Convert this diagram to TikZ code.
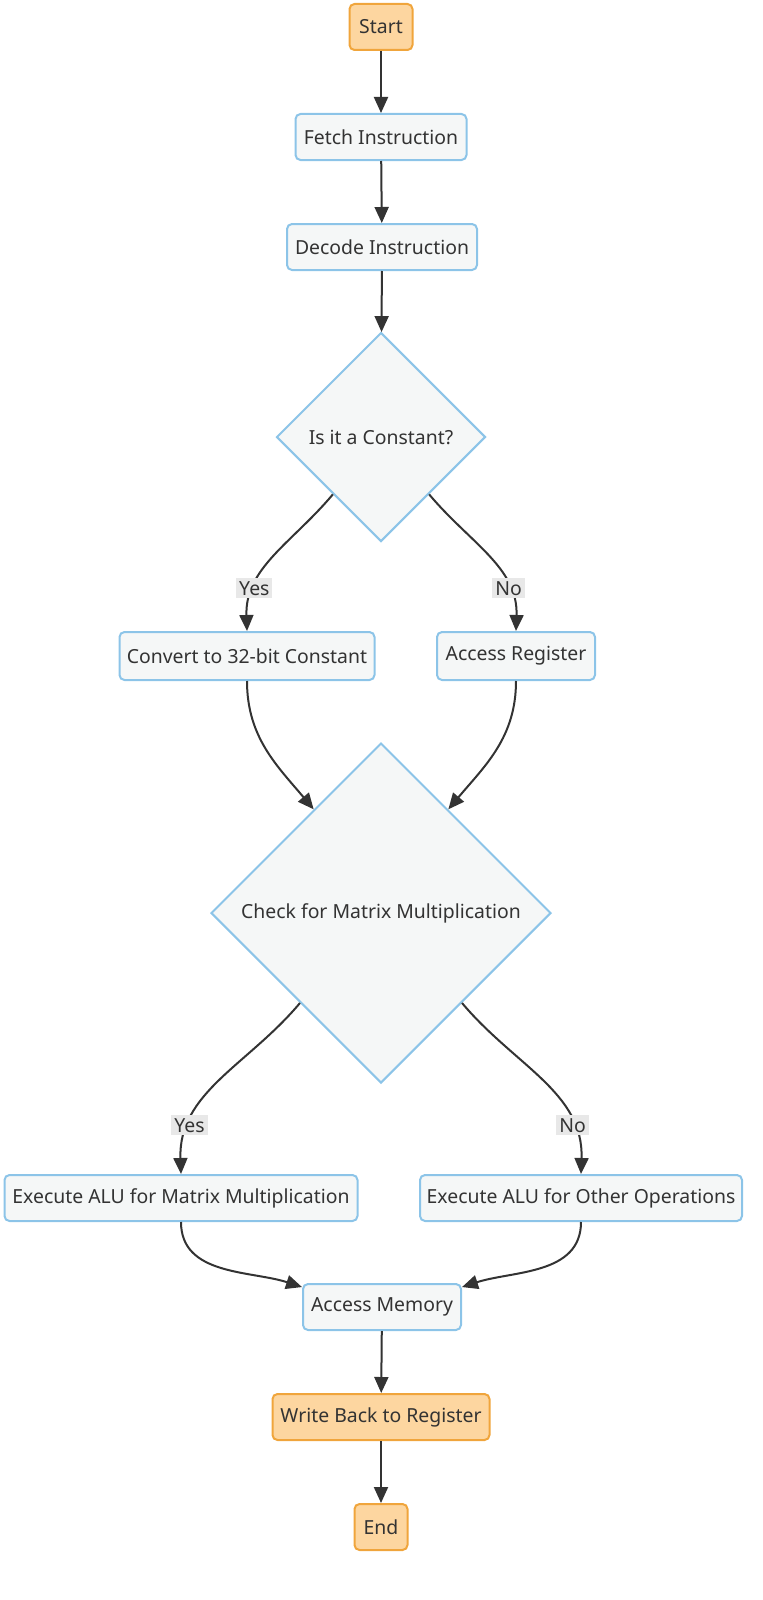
\documentclass[tikz,border=0pt]{standalone}
\usepackage{fontspec}
\setmainfont{Noto Sans}
\usetikzlibrary{shapes.geometric,arrows.meta}
\definecolor{boxfill}{HTML}{F5F7F7}
\definecolor{boxline}{HTML}{8CC4E8}
\definecolor{termfill}{HTML}{FDD6A0}
\definecolor{termline}{HTML}{F0A53C}
\definecolor{flowgray}{HTML}{333333}
\definecolor{textgray}{HTML}{333333}
\definecolor{lblgray}{HTML}{E8E8E8}
\begin{document}
\begin{tikzpicture}[x=0.5pt,y=-0.5pt]
    \tikzstyle{every node}+=[font=\fontsize{9.7}{11.5}\selectfont, text=textgray]
    \tikzstyle{proc}=[draw=boxline, fill=boxfill, line width=1pt, rounded corners=2.5pt, minimum height=23pt, inner xsep=3pt]
    \tikzstyle{term}=[proc, draw=termline, fill=termfill]
    \tikzstyle{decide}=[diamond, draw=boxline, fill=boxfill, line width=1pt, aspect=1, inner sep=0pt]
    \tikzstyle{flow}=[draw=flowgray, line width=1pt, -{Triangle[length=8pt,width=7pt]}]
    \tikzstyle{lbl}=[fill=lblgray, inner sep=1.5pt]
    \useasboundingbox (0,0) rectangle (763,1600);
        \node [term, minimum width=31.5pt] (start) at (381,27) {Start};
        \node [proc, minimum width=85.5pt] (fetch) at (381,137) {Fetch Instruction};
        \node [proc, minimum width=95pt] (decode) at (382,247) {Decode Instruction};
        \node [decide, minimum size=104.5pt] (isconst) at (381,437) {Is it a Constant?};
        \node [proc, minimum width=127.5pt, minimum height=24pt] (conv) at (247,656) {Convert to 32-bit Constant};
        \node [proc, minimum width=79pt, minimum height=24pt] (accreg) at (516,656) {Access Register};
        \node [decide, minimum size=170pt] (ismat) at (381,913) {Check for Matrix Multiplication};
        \node [proc, minimum width=176.5pt] (alumat) at (181,1198) {Execute ALU for Matrix Multiplication};
        \node [proc, minimum width=161pt] (aluoth) at (581,1198) {Execute ALU for Other Operations};
        \node [proc, minimum width=79pt] (accmem) at (382,1307) {Access Memory};
        \node [term, minimum width=108.5pt] (wback) at (381,1417) {Write Back to Register};
        \node [term, minimum width=26.5pt] (stop) at (381,1527) {End};
        % straight flow
        \draw [flow] (start) -- (fetch);
        \draw [flow] (fetch) -- (decode);
        \draw [flow] (decode) -- (isconst);
        \draw [flow] (accmem) -- (wback);
        \draw [flow] (wback) -- (stop);
        % branches
        \draw [flow] (isconst.-130) to[out=-130, in=92] node[lbl, pos=0.74] {Yes} (conv.north);
        \draw [flow] (isconst.-50) to[out=-50, in=88] node[lbl, pos=0.74] {No} (accreg.north);
        \draw [flow] (conv.south) to[out=-90, in=130] (ismat.123);
        \draw [flow] (accreg.south) to[out=-90, in=50] (ismat.57);
        \draw [flow] (ismat.-132) to[out=-130, in=92] node[lbl, pos=0.77] {Yes} (alumat.north);
        \draw [flow] (ismat.-48) to[out=-50, in=88] node[lbl, pos=0.77] {No} (aluoth.north);
        \draw [flow] (alumat.south) to[out=-90, in=162] (accmem.166);
        \draw [flow] (aluoth.south) to[out=-90, in=18] (accmem.14);
\end{tikzpicture}
\end{document}
